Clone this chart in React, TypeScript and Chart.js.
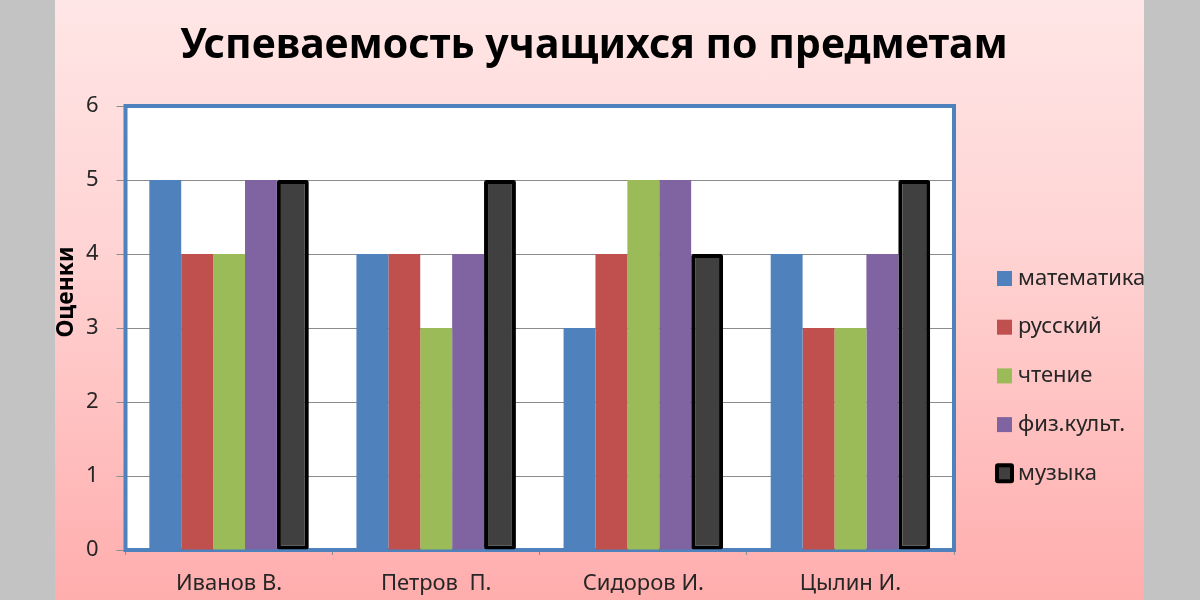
import React, { useEffect, useRef } from "react";
import { Chart, registerables } from "chart.js";

Chart.register(...registerables);

const categories = ["Иванов В.", "Петров  П.", "Сидоров И.", "Цылин И."];
const seriesNames = ["математика", "русский", "чтение", "физ.культ.", "музыка"];
const mathValues = [5, 4, 3, 4];
const russianValues = [4, 4, 4, 3];
const readingValues = [4, 3, 5, 3];
const sportValues = [5, 4, 5, 4];
const musicValues = [5, 5, 4, 5];
const yTicks = [0, 1, 2, 3, 4, 5, 6];
const titleText = "Успеваемость учащихся по предметам";
const yTitleText = "Оценки";

const colors = ["#4f81bd", "#c0504d", "#9bbb59", "#8064a2", "#404040"];
const FONT = "'Noto Sans', sans-serif";
const TEXT = "#262626";

const framePlugin = {
  id: "frame",
  beforeDraw(chart: any) {
    const { ctx, chartArea } = chart;
    ctx.save();
    ctx.fillStyle = "#ffffff";
    ctx.fillRect(chartArea.left, chartArea.top, chartArea.right - chartArea.left, chartArea.bottom - chartArea.top);
    ctx.restore();
  },
  beforeDatasetsDraw(chart: any) {
    const { ctx, chartArea } = chart;
    ctx.save();
    ctx.strokeStyle = "#4f81bd";
    ctx.lineWidth = 4;
    ctx.strokeRect(chartArea.left, chartArea.top, chartArea.right - chartArea.left, chartArea.bottom - chartArea.top);
    ctx.restore();
  },
  afterDraw(chart: any) {
    const { ctx, chartArea } = chart;
    // chart title
    ctx.save();
    ctx.font = `bold 41px ${FONT}`;
    ctx.fillStyle = "#000";
    ctx.textAlign = "center";
    ctx.textBaseline = "alphabetic";
    ctx.fillText(titleText, 539, 58);
    ctx.restore();

    // y-axis title
    ctx.save();
    ctx.font = `bold 23px ${FONT}`;
    ctx.fillStyle = "#000";
    ctx.textAlign = "center";
    ctx.textBaseline = "middle";
    ctx.translate(11, 292);
    ctx.rotate(-Math.PI / 2);
    ctx.fillText(yTitleText, 0, 0);
    ctx.restore();

    // legend
    ctx.save();
    const x0 = chartArea.right + 43;
    const y0 = 278.5;
    const step = 48.7;
    chart.data.datasets.forEach((ds: any, i: number) => {
      const cy = y0 + i * step;
      if (ds.borderWidth) {
        ctx.fillStyle = "#000";
        ctx.beginPath();
        ctx.roundRect(x0 - 2, cy - 10, 19, 20, 3);
        ctx.fill();
        ctx.fillStyle = ds.backgroundColor;
        ctx.fillRect(x0 + 2, cy - 6, 11, 12);
      } else {
        ctx.fillStyle = ds.backgroundColor;
        ctx.fillRect(x0, cy - 7.5, 15, 15);
      }
      ctx.fillStyle = TEXT;
      ctx.font = `22px ${FONT}`;
      ctx.textAlign = "left";
      ctx.textBaseline = "middle";
      ctx.fillText(ds.label, x0 + 21, cy);
    });
    ctx.restore();
  },
};

export default function App() {
  const ref = useRef<HTMLCanvasElement>(null);
  useEffect(() => {
    if (!ref.current) return;
    const allValues = [mathValues, russianValues, readingValues, sportValues, musicValues];
    const chart = new Chart(ref.current, {
      type: "bar",
      data: {
        labels: categories,
        datasets: allValues.map((vals, i) => ({
          label: seriesNames[i],
          data: vals,
          backgroundColor: colors[i],
          borderColor: i === 4 ? "#000000" : colors[i],
          borderWidth: i === 4 ? 4 : 0,
          borderSkipped: false,
          borderRadius: i === 4 ? 2 : 0,
          categoryPercentage: 0.77,
          barPercentage: 1,
        })),
      },
      options: {
        responsive: false,
        animation: false,
        layout: { padding: { left: 0, right: 190, top: 106, bottom: 0 } },
        plugins: {
          legend: { display: false },
          tooltip: { enabled: false },
          title: { display: false },
        },
        scales: {
          x: {
            grid: { display: true, drawOnChartArea: false, offset: true, tickLength: 5, color: "#8c8c8c" },
            border: { display: false },
            ticks: { color: TEXT, font: { family: FONT, size: 22 }, padding: 16 },
            afterFit: (s: any) => { s.height = 50; },
          },
          y: {
            min: 0,
            max: 6,
            afterBuildTicks: (s: any) => { s.ticks = yTicks.map((v) => ({ value: v })); },
            grid: { color: "#8c8c8c", tickLength: 9 },
            border: { display: false },
            ticks: { color: TEXT, font: { family: FONT, size: 22 }, padding: 18 },
            afterFit: (s: any) => { s.width = 70.5; },
          },
        },
      },
      plugins: [framePlugin],
    });
    return () => chart.destroy();
  }, []);

  return (
    <div style={{ position: "fixed", left: 0, top: 0, width: 1200, height: 600, background: "#c3c3c3" }}>
      <div
        style={{
          position: "absolute",
          left: 55,
          top: 0,
          width: 1089,
          height: 600,
          overflow: "hidden",
          background: "linear-gradient(to bottom, #ffe6e6 0%, #ffd4d4 40%, #ffadad 100%)",
        }}
      >
        <canvas ref={ref} width={1089} height={600} style={{ display: "block" }} />
      </div>
    </div>
  );
}
